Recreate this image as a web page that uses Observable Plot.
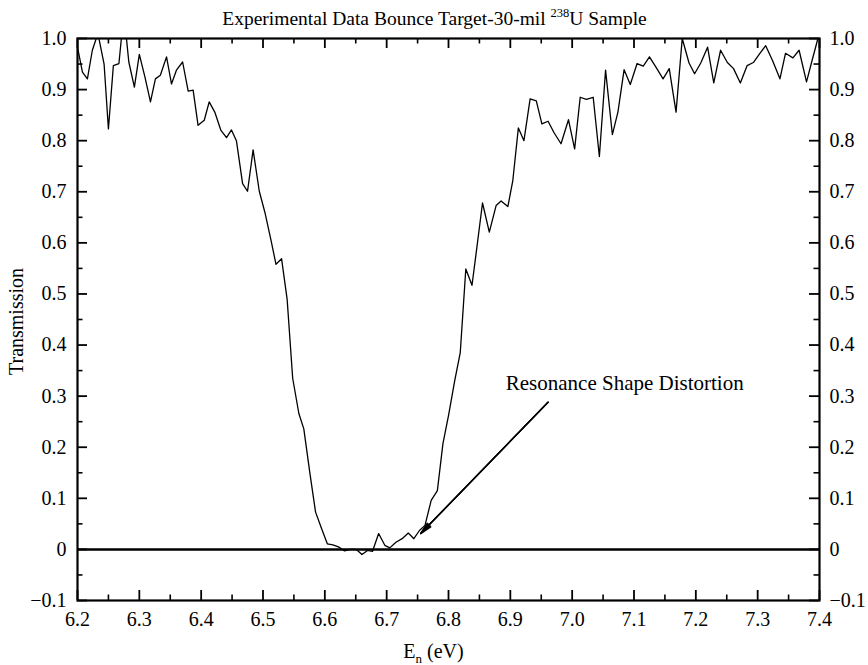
<!DOCTYPE html>
<html>
<head>
<meta charset="utf-8">
<script src="https://cdn.jsdelivr.net/npm/d3@7"></script>
<script src="https://cdn.jsdelivr.net/npm/@observablehq/plot@0.6"></script>
<style>
  html, body { margin: 0; padding: 0; background: #fff; }
  #chart { width: 868px; height: 665px; }
  #chart svg text { font-family: "Liberation Serif", "Times New Roman", serif; }
</style>
</head>
<body>
<div id="chart"></div>
<script>
// Neutron energy (eV) and measured transmission of the 30-mil U-238 sample
const energy = [
  6.200, 6.208, 6.216, 6.224, 6.233, 6.243, 6.250, 6.258, 6.267, 6.275,
  6.283, 6.292, 6.300, 6.309, 6.318, 6.326, 6.334, 6.344, 6.352, 6.360,
  6.370, 6.379, 6.387, 6.395, 6.405, 6.413, 6.422, 6.432, 6.441, 6.449,
  6.457, 6.467, 6.475, 6.484, 6.494, 6.503, 6.513, 6.521, 6.530, 6.539,
  6.548, 6.558, 6.566, 6.576, 6.585, 6.595, 6.604, 6.613, 6.622, 6.632,
  6.641, 6.651, 6.660, 6.669, 6.677, 6.687, 6.697, 6.705, 6.715, 6.725,
  6.735, 6.744, 6.753, 6.762, 6.772, 6.782, 6.791, 6.800, 6.810, 6.819,
  6.828, 6.838, 6.846, 6.855, 6.866, 6.877, 6.885, 6.896, 6.904, 6.913,
  6.922, 6.932, 6.942, 6.951, 6.961, 6.971, 6.982, 6.994, 7.004, 7.013,
  7.023, 7.034, 7.044, 7.054, 7.065, 7.074, 7.084, 7.094, 7.105, 7.115,
  7.125, 7.136, 7.147, 7.157, 7.168, 7.178, 7.189, 7.198, 7.208, 7.219,
  7.229, 7.240, 7.251, 7.261, 7.272, 7.283, 7.293, 7.303, 7.313, 7.324,
  7.336, 7.345, 7.357, 7.367, 7.379, 7.388, 7.397
];
const transmission = [
  0.983, 0.934, 0.921, 0.977, 1.010, 0.950, 0.823, 0.947, 0.951, 1.050,
  0.954, 0.905, 0.969, 0.925, 0.876, 0.921, 0.928, 0.964, 0.911, 0.938,
  0.954, 0.897, 0.899, 0.830, 0.840, 0.876, 0.856, 0.820, 0.806, 0.821,
  0.800, 0.716, 0.701, 0.782, 0.701, 0.660, 0.605, 0.558, 0.569, 0.490,
  0.335, 0.266, 0.236, 0.148, 0.073, 0.040, 0.011, 0.009, 0.005, -0.003,
  0.000, 0.000, -0.010, -0.002, -0.004, 0.031, 0.008, 0.003, 0.014, 0.021,
  0.032, 0.021, 0.037, 0.047, 0.096, 0.115, 0.207, 0.262, 0.330, 0.385,
  0.549, 0.517, 0.592, 0.678, 0.621, 0.673, 0.682, 0.671, 0.722, 0.825,
  0.800, 0.882, 0.878, 0.833, 0.838, 0.815, 0.794, 0.841, 0.784, 0.885,
  0.881, 0.885, 0.769, 0.938, 0.812, 0.856, 0.939, 0.910, 0.951, 0.946,
  0.964, 0.943, 0.921, 0.941, 0.856, 1.000, 0.952, 0.931, 0.952, 0.983,
  0.913, 0.977, 0.953, 0.941, 0.913, 0.947, 0.953, 0.970, 0.986, 0.957,
  0.921, 0.971, 0.962, 0.977, 0.915, 0.957, 0.998
];

// Axis ticks
const xTicks = [6.2, 6.3, 6.4, 6.5, 6.6, 6.7, 6.8, 6.9, 7.0, 7.1, 7.2, 7.3, 7.4];
const xMinorTicks = [6.25, 6.35, 6.45, 6.55, 6.65, 6.75, 6.85, 6.95, 7.05, 7.15, 7.25, 7.35];
const yTicks = [-0.1, 0, 0.1, 0.2, 0.3, 0.4, 0.5, 0.6, 0.7, 0.8, 0.9, 1.0];
const yMinorTicks = [-0.05, 0.05, 0.15, 0.25, 0.35, 0.45, 0.55, 0.65, 0.75, 0.85, 0.95];

// Text
const titlePre = "Experimental Data Bounce Target-30-mil ";
const titleSup = "238";
const titlePost = "U Sample";
const xLabelMain = "E";
const xLabelSub = "n";
const xLabelPost = " (eV)";
const yLabel = "Transmission";

// Callout
const calloutText = ["Resonance Shape Distortion"];
const calloutTextX = [7.085];
const calloutTextY = [0.326];
const calloutFrom = [6.961, 0.288];
const calloutTo = [6.755, 0.031];

const data = energy.map((e, i) => ({e, t: transmission[i]}));

const W = 868, H = 665;
const mL = 77, mR = 49, mT = 38, mB = 65;
const innerW = W - mL - mR, innerH = H - mT - mB;
const major = 10, minor = 5.5;
const fmtY = d => d === 0 ? "0" : d3.format(".1f")(d);
const fmtX = d3.format(".1f");

// arrow from the label to the distorted region; stacking several narrow
// heads fills in the wedge so it reads as a solid arrowhead
const calloutArrow = angle => Plot.arrow([calloutText[0]], {
  x1: () => calloutFrom[0], y1: () => calloutFrom[1],
  x2: () => calloutTo[0], y2: () => calloutTo[1],
  headLength: 13, headAngle: angle, stroke: "#000", strokeWidth: 1.4
});

const plot = Plot.plot({
  width: W,
  height: H,
  marginLeft: mL,
  marginRight: mR,
  marginTop: mT,
  marginBottom: mB,
  style: {fontFamily: "'Liberation Serif', 'Times New Roman', serif", fontSize: "20px", background: "#fff", color: "#000"},
  x: {domain: [6.2, 7.4]},
  y: {domain: [-0.1, 1.0]},
  marks: [
    // tick labels
    Plot.axisX({anchor: "bottom", ticks: xTicks, tickFormat: fmtX, tickSize: 0, tickPadding: 11, label: null, fontSize: 20}),
    Plot.axisY({anchor: "left", ticks: yTicks, tickFormat: fmtY, tickSize: 0, tickPadding: 11, label: null, fontSize: 20}),
    Plot.axisY({anchor: "right", ticks: yTicks, tickFormat: fmtY, tickSize: 0, tickPadding: 10, label: null, fontSize: 20}),

    // inward tick marks on all four sides
    Plot.tickX(xTicks, {x: d => d, insetTop: innerH - major, strokeWidth: 1.8}),
    Plot.tickX(xTicks, {x: d => d, insetBottom: innerH - major, strokeWidth: 1.8}),
    Plot.tickX(xMinorTicks, {x: d => d, insetTop: innerH - minor, strokeWidth: 1.6}),
    Plot.tickX(xMinorTicks, {x: d => d, insetBottom: innerH - minor, strokeWidth: 1.6}),
    Plot.tickY(yTicks, {y: d => d, insetRight: innerW - major, strokeWidth: 1.8}),
    Plot.tickY(yTicks, {y: d => d, insetLeft: innerW - major, strokeWidth: 1.8}),
    Plot.tickY(yMinorTicks, {y: d => d, insetRight: innerW - minor, strokeWidth: 1.6}),
    Plot.tickY(yMinorTicks, {y: d => d, insetLeft: innerW - minor, strokeWidth: 1.6}),

    // zero transmission baseline
    Plot.ruleY([0], {strokeWidth: 2.5}),

    // measured transmission
    Plot.line(data, {x: "e", y: "t", stroke: "#000", strokeWidth: 1.3, clip: true}),

    // callout
    calloutArrow(8),
    calloutArrow(16),
    calloutArrow(24),
    Plot.text(calloutText, {x: (d, i) => calloutTextX[i], y: (d, i) => calloutTextY[i], text: d => d, fontSize: 21, textAnchor: "middle"}),

    // title and axis labels
    Plot.text([titlePre + titleSup + titlePost], {frameAnchor: "top", text: d => d, lineAnchor: "bottom", dy: -14, dx: -14, fontSize: 19.5}),
    Plot.text([xLabelMain + xLabelSub + xLabelPost], {frameAnchor: "bottom", text: d => d, lineAnchor: "bottom", dy: 57, dx: -15, fontSize: 20}),
    Plot.text([yLabel], {frameAnchor: "left", text: d => d, rotate: -90, textAnchor: "middle", lineAnchor: "middle", dx: -61, dy: 2, fontSize: 20}),

    Plot.frame({strokeWidth: 2.2})
  ]
});

// superscript / subscript typesetting
const svg = d3.select(plot);
svg.selectAll("text").filter(function () { return this.textContent === titlePre + titleSup + titlePost; })
  .each(function () {
    const t = d3.select(this);
    t.selectAll("*").remove();
    t.text(null);
    t.append("tspan").text(titlePre);
    t.append("tspan").attr("dy", "-8").attr("font-size", "12.5").text(titleSup);
    t.append("tspan").attr("dy", "8").text(titlePost);
  });
svg.selectAll("text").filter(function () { return this.textContent === xLabelMain + xLabelSub + xLabelPost; })
  .each(function () {
    const t = d3.select(this);
    t.selectAll("*").remove();
    t.text(null);
    t.append("tspan").text(xLabelMain);
    t.append("tspan").attr("dy", "5").attr("font-size", "13").text(xLabelSub);
    t.append("tspan").attr("dy", "-5").text(xLabelPost);
  });

document.getElementById("chart").appendChild(plot);
</script>
</body>
</html>
